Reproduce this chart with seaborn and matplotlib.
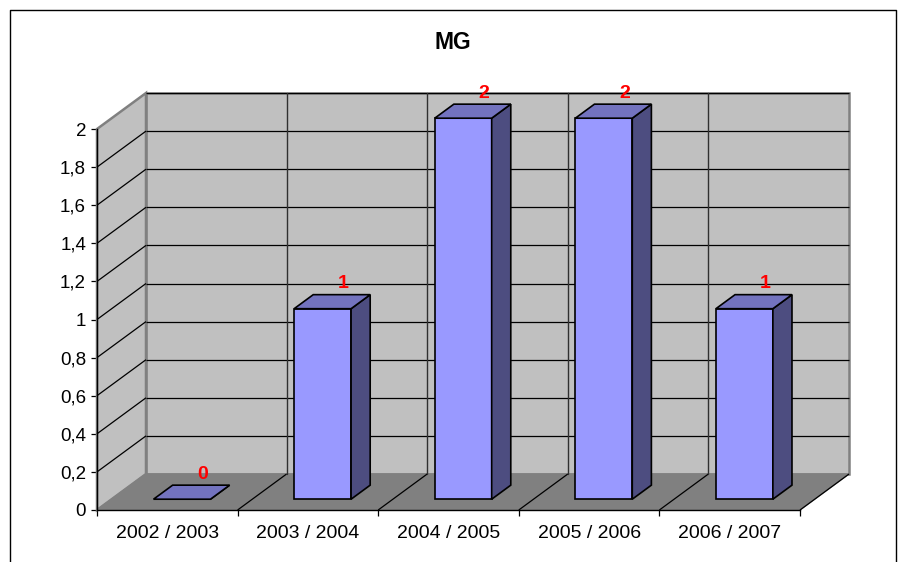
import numpy as np
import pandas as pd
import matplotlib
matplotlib.use("Agg")
import matplotlib.pyplot as plt
from matplotlib.lines import Line2D
from matplotlib.patches import Polygon
import seaborn as sns

# data
seasons = ["2002 / 2003", "2003 / 2004", "2004 / 2005", "2005 / 2006", "2006 / 2007"]
values = [0, 1, 2, 2, 1]
y_ticks = [0, 0.2, 0.4, 0.6, 0.8, 1, 1.2, 1.4, 1.6, 1.8, 2]
y_tick_labels = ["0", "0,2", "0,4", "0,6", "0,8", "1", "1,2", "1,4", "1,6", "1,8", "2"]
chart_title = "MG"

# colours
WALL = "#c0c0c0"
FLOOR = "#808080"
BAR_FRONT = "#9999ff"
BAR_TOP = "#7373bf"
BAR_SIDE = "#4d4d80"

# fake 3D: depth of the box, in data units
DEPTH_X = 49 / 140.6
DEPTH_Y = 36 / 190.5
BAR_START = 0.30   # where a bar sits in the depth of the box
BAR_DEPTH = 0.39

W, H = 899, 562
sns.set_style("white")
plt.rcParams["font.family"] = ["Liberation Sans", "DejaVu Sans"]

fig = plt.figure(figsize=(W / 100, H / 100), dpi=100, facecolor="white")
ax = fig.add_axes([97 / W, (H - 510) / H, 703 / W, 381 / H])
ax.patch.set_visible(False)

df = pd.DataFrame({"season": seasons, "value": values})
sns.barplot(data=df, x="season", y="value", ax=ax, color=BAR_FRONT, saturation=1,
            width=0.405, edgecolor="black", linewidth=1.2, zorder=4)

x0, x1 = -0.5, len(seasons) - 0.5
y_top = max(y_ticks)

# walls and floor
ax.add_patch(Polygon([(x0 + DEPTH_X, DEPTH_Y), (x1 + DEPTH_X, DEPTH_Y),
                      (x1 + DEPTH_X, y_top + DEPTH_Y), (x0 + DEPTH_X, y_top + DEPTH_Y)],
                     fc=WALL, ec=FLOOR, lw=1.8, zorder=1, clip_on=False))
ax.add_patch(Polygon([(x0, 0), (x0 + DEPTH_X, DEPTH_Y), (x0 + DEPTH_X, y_top + DEPTH_Y), (x0, y_top)],
                     fc=WALL, ec=FLOOR, lw=1.8, zorder=1, clip_on=False))
ax.add_patch(Polygon([(x0, 0), (x1, 0), (x1 + DEPTH_X, DEPTH_Y), (x0 + DEPTH_X, DEPTH_Y)],
                     fc=FLOOR, ec=FLOOR, lw=1, zorder=1, clip_on=False))

# grid
line_kw = dict(color="black", lw=0.9, clip_on=False, zorder=2, solid_capstyle="butt")
for t in y_ticks[1:]:
    if t < y_top:
        ax.plot([x0, x0 + DEPTH_X], [t, t + DEPTH_Y], **line_kw)
    ax.plot([x0 + DEPTH_X, x1 + DEPTH_X], [t + DEPTH_Y, t + DEPTH_Y], **line_kw)
boundaries = np.arange(x0 + 1, x1 + 1)
for b in boundaries:
    ax.plot([b, b + DEPTH_X], [0, DEPTH_Y], **line_kw)
    if b < x1:
        ax.plot([b + DEPTH_X, b + DEPTH_X], [DEPTH_Y, y_top + DEPTH_Y],
                color="#303030", lw=1, clip_on=False, zorder=2)

# push the bars into the box, then add their top and side faces
for p, val in zip(list(ax.patches), values):
    if p.get_zorder() != 4:
        continue
    p.set_x(p.get_x() + DEPTH_X * BAR_START)
    p.set_y(DEPTH_Y * BAR_START)
    p.set_clip_on(False)
    left, right = p.get_x(), p.get_x() + p.get_width()
    bottom, top = p.get_y(), p.get_y() + p.get_height()
    dx, dy = DEPTH_X * BAR_DEPTH, DEPTH_Y * BAR_DEPTH
    ax.add_patch(Polygon([(right, bottom), (right + dx, bottom + dy), (right + dx, top + dy), (right, top)],
                         fc=BAR_SIDE, ec="black", lw=1.2, zorder=4, clip_on=False))
    ax.add_patch(Polygon([(left, top), (right, top), (right + dx, top + dy), (left + dx, top + dy)],
                         fc=BAR_TOP, ec="black", lw=1.2, zorder=4, clip_on=False))
    ax.annotate(str(val), (left, top + dy), xytext=(49, 11), textcoords="offset pixels",
                ha="center", va="center", color="red", fontsize=14, fontweight="bold",
                zorder=6, annotation_clip=False)

# axes
ax.set_xlim(x0, x1)
ax.set_ylim(0, y_top)
ax.set_yticks(y_ticks, y_tick_labels)
ax.set_xticks(range(len(seasons)), seasons)
ax.set_xticks(np.arange(x0, x1 + 1), minor=True)
ax.set_xlabel("")
ax.set_ylabel("")
ax.tick_params(axis="x", which="major", length=0, pad=11, labelsize=14, colors="black")
ax.tick_params(axis="x", which="minor", length=4.3, width=0.9, color="black", bottom=True)
ax.tick_params(axis="y", length=4.3, width=0.9, pad=3.6, labelsize=13.5, colors="black", left=True)
ax.spines[["top", "right"]].set_visible(False)
for side in ["left", "bottom"]:
    ax.spines[side].set_color("black")
    ax.spines[side].set_linewidth(1)
    ax.spines[side].set_zorder(3)

fig.text(453 / W, 1 - 42.5 / H, chart_title, ha="center", va="center", fontsize=16.5,
         fontweight="bold", color="black")

# chart frame, its bottom edge falls outside the picture
fig.add_artist(Line2D([9.5 / W, 9.5 / W, 895.5 / W, 895.5 / W], [0, 1 - 10 / H, 1 - 10 / H, 0],
                      color="black", lw=1))

fig.savefig("out.png", dpi=100, facecolor="white")
